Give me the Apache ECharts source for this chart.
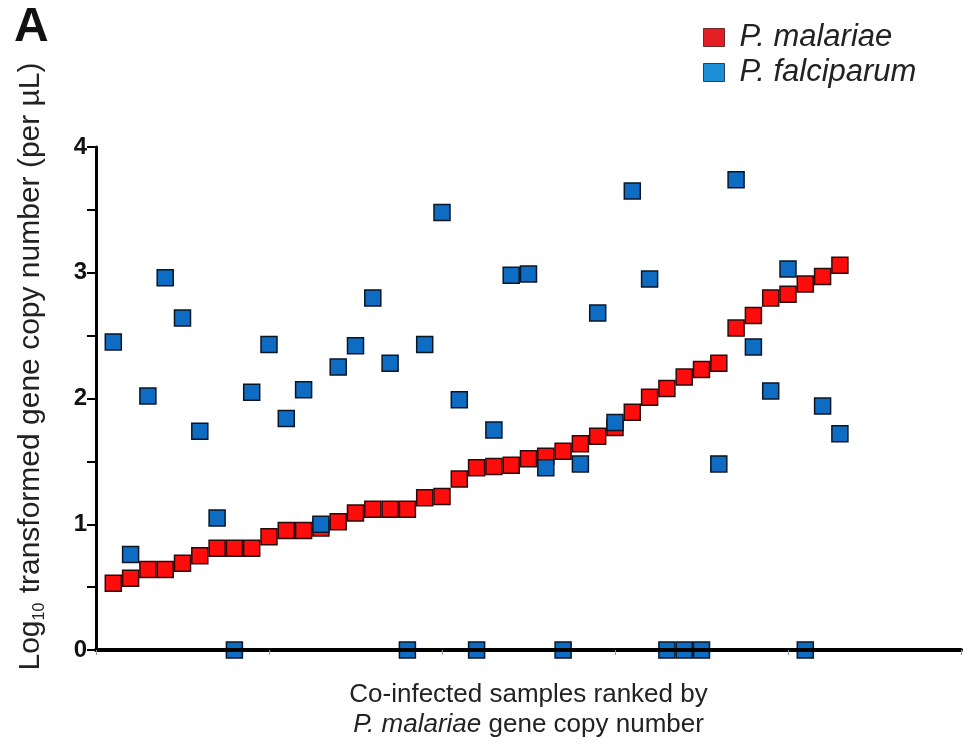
<!DOCTYPE html>
<html>
<head>
<meta charset="utf-8">
<script src="https://cdn.jsdelivr.net/npm/echarts@6/dist/echarts.min.js"></script>
<style>html,body{margin:0;padding:0;background:#fff;}#chart{width:963px;height:750px;}</style>
</head>
<body>
<div id="chart"></div>
<script>
// Log10 gene copy number per sample, samples ranked by P. malariae value
const malariae = [0.53,0.57,0.64,0.64,0.69,0.75,0.81,0.81,0.81,0.90,0.95,0.95,0.97,1.02,1.09,1.12,1.12,1.12,1.21,1.22,1.36,1.45,1.46,1.47,1.52,1.54,1.58,1.64,1.70,1.77,1.89,2.01,2.08,2.17,2.23,2.28,2.56,2.66,2.80,2.83,2.91,2.97,3.06];
const falciparum = [2.45,0.76,2.02,2.96,2.64,1.74,1.05,0,2.05,2.43,1.84,2.07,1.00,2.25,2.42,2.80,2.28,0,2.43,3.48,1.99,0,1.75,2.98,2.99,1.45,0,1.48,2.68,1.81,3.65,2.95,0,0,0,1.48,3.74,2.41,2.06,3.03,0,1.94,1.72];
const yTickLabels = ['0','1','2','3','4'];
const seriesNames = ['P. malariae','P. falciparum'];

const FONT = '"Liberation Sans", Arial, Helvetica, sans-serif';
const toPairs = arr => arr.map((v, i) => [i + 1, v]);

const chart = echarts.init(document.getElementById('chart'), null, {renderer: 'canvas'});
chart.setOption({
  backgroundColor: '#fff',
  animation: false,
  title: {
    text: 'A', left: 9, top: -1,
    textStyle: {fontFamily: FONT, fontSize: 48, fontWeight: 'bold', color: '#111'}
  },
  legend: {
    orient: 'vertical', left: 698, top: 17, itemGap: 4,
    itemWidth: 21, itemHeight: 18,
    textStyle: {fontFamily: FONT, fontSize: 31, fontStyle: 'italic', color: '#222', padding: [0, 0, 0, 10]},
    data: [
      {name: seriesNames[0], icon: 'rect', itemStyle: {color: '#e31e24', borderColor: '#6a2a2a', borderWidth: 1}},
      {name: seriesNames[1], icon: 'rect', itemStyle: {color: '#1b8fd8', borderColor: '#2a3f55', borderWidth: 1}}
    ]
  },
  grid: {left: 96, right: 2, top: 147, bottom: 100, containLabel: false},
  xAxis: {
    type: 'value', min: 0, max: 50, interval: 10, z: 5,
    name: 'Co-infected samples ranked by\n{i|P. malariae} gene copy number',
    nameLocation: 'middle', nameGap: 30,
    nameTextStyle: {
      fontFamily: FONT, fontSize: 26, color: '#222', lineHeight: 30,
      rich: {i: {fontFamily: FONT, fontSize: 26, fontStyle: 'italic', color: '#222', lineHeight: 30}}
    },
    axisLine: {lineStyle: {color: '#000', width: 4}},
    axisTick: {show: true, length: 5, lineStyle: {color: '#999', width: 1}},
    axisLabel: {show: false},
    splitLine: {show: false}
  },
  yAxis: {
    type: 'value', min: 0, max: 4, interval: 0.5, z: 5,
    name: '{a|Log}{s|10}{a| transformed gene copy number (per µL)}',
    nameLocation: 'middle', nameGap: 48, nameRotate: 90,
    nameTextStyle: {
      padding: [0, 0, 0, 64],
      rich: {
        a: {fontFamily: FONT, fontSize: 30, color: '#222', lineHeight: 34},
        s: {fontFamily: FONT, fontSize: 16, color: '#222', verticalAlign: 'bottom', lineHeight: 34, padding: [0, 1, 0, 0]}
      }
    },
    axisLine: {show: true, lineStyle: {color: '#000', width: 3}},
    axisTick: {show: true, length: 9, lineStyle: {color: '#000', width: 2}},
    axisLabel: {
      margin: 9, fontFamily: FONT, fontSize: 24, fontWeight: 'bold', color: '#111',
      formatter: v => (Number.isInteger(v) ? yTickLabels[v] : '')
    },
    splitLine: {show: false}
  },
  series: [
    {
      name: seriesNames[0], type: 'scatter', symbol: 'rect', symbolSize: 16, clip: false, z: 2,
      itemStyle: {color: '#ff0d0d', borderColor: '#2b0a0a', borderWidth: 1.5, opacity: 1},
      data: toPairs(malariae)
    },
    {
      name: seriesNames[1], type: 'scatter', symbol: 'rect', symbolSize: 16, clip: false, z: 3,
      itemStyle: {color: '#0e6dc2', borderColor: '#0a1626', borderWidth: 1.5, opacity: 1},
      data: toPairs(falciparum)
    }
  ]
});
</script>
</body>
</html>
